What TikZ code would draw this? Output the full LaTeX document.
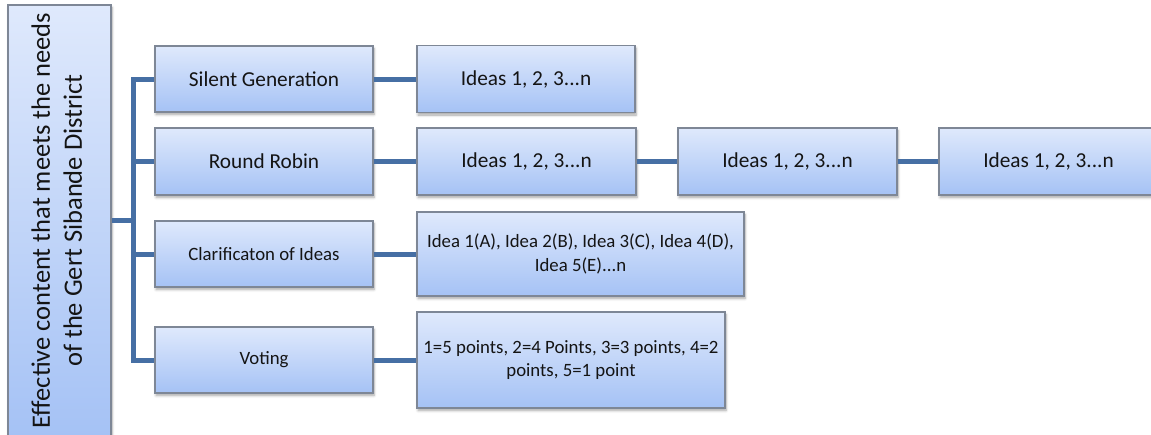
\documentclass[tikz,border=0pt]{standalone}
\usepackage{fontspec}
\usepackage{graphicx}
\setmainfont{Carlito}
\usetikzlibrary{shadows.blur}
\definecolor{linkblue}{HTML}{466FA4}
\definecolor{boxtop}{HTML}{DFE9FC}
\definecolor{boxbot}{HTML}{A5C2F5}
\definecolor{boxedge}{HTML}{7E8796}
\definecolor{ink}{HTML}{141414}

\begin{document}
\begin{tikzpicture}[x=1pt,y=-1pt,
  box/.style={draw=boxedge, line width=1.1pt, top color=boxtop, bottom color=boxbot,
    inner sep=0pt, align=center, text=ink,
    blur shadow={shadow xshift=1pt, shadow yshift=-2.5pt, shadow blur radius=2.5pt,
      shadow blur steps=6, shadow opacity=35}},
  link/.style={draw=linkblue, line width=5pt, line join=miter},
  big/.style={font=\fontsize{21.3}{26}\selectfont},
  small/.style={font=\fontsize{18.8}{23.5}\selectfont}]

\useasboundingbox (0,0) rectangle (1151,434);
\clip (0,0) rectangle (1151,434);

% root
\node[box, minimum width=103pt, minimum height=431pt] (root) at (59.5,220.5)
  {\rotatebox{90}{\fontsize{26.5}{32}\selectfont\begin{tabular}{@{}c@{}}Effective content that meets the needs\\of the Gert Sibande District\end{tabular}}};

% first level
\node[box, big, minimum width=218pt, minimum height=66pt] (sg) at (264,79) {Silent Generation};
\node[box, big, minimum width=218pt, minimum height=67pt] (rr) at (264,161.5) {Round Robin};
\node[box, small, minimum width=218pt, minimum height=66pt] (cl) at (264,254) {Clarificaton of Ideas};
\node[box, small, minimum width=218pt, minimum height=66pt] (vo) at (264,360) {Voting};

% second level
\node[box, big, minimum width=218pt, minimum height=67pt] (si) at (526,79) {Ideas 1, 2, 3...n};
\node[box, big, minimum width=219pt, minimum height=67pt] (r1) at (526.5,161.5) {Ideas 1, 2, 3...n};
\node[box, big, minimum width=219pt, minimum height=67pt] (r2) at (787.5,161.5) {Ideas 1, 2, 3...n};
\node[box, big, minimum width=219pt, minimum height=67pt] (r3) at (1048.5,161.5) {Ideas 1, 2, 3...n};
\node[box, small, minimum width=327pt, minimum height=84pt] (ci) at (580.5,254)
  {Idea 1(A), Idea 2(B), Idea 3(C), Idea 4(D),\\Idea 5(E)...n};
\node[box, small, minimum width=308pt, minimum height=96pt] (vi) at (571,360)
  {1=5 points, 2=4 Points, 3=3 points, 4=2\\points, 5=1 point};

% connectors
\coordinate (tr) at (133,220);
\draw[link] (root.east |- tr) -- (tr);
\draw[link] (sg.west) -- (sg.west -| tr) -- (vo.west -| tr) -- (vo.west);
\draw[link] (rr.west) -- (rr.west -| tr);
\draw[link] (cl.west) -- (cl.west -| tr);
\draw[link] (sg.east) -- (si.west);
\draw[link] (rr.east) -- (r1.west);
\draw[link] (r1.east) -- (r2.west);
\draw[link] (r2.east) -- (r3.west);
\draw[link] (cl.east) -- (ci.west);
\draw[link] (vo.east) -- (vi.west);
\end{tikzpicture}
\end{document}
